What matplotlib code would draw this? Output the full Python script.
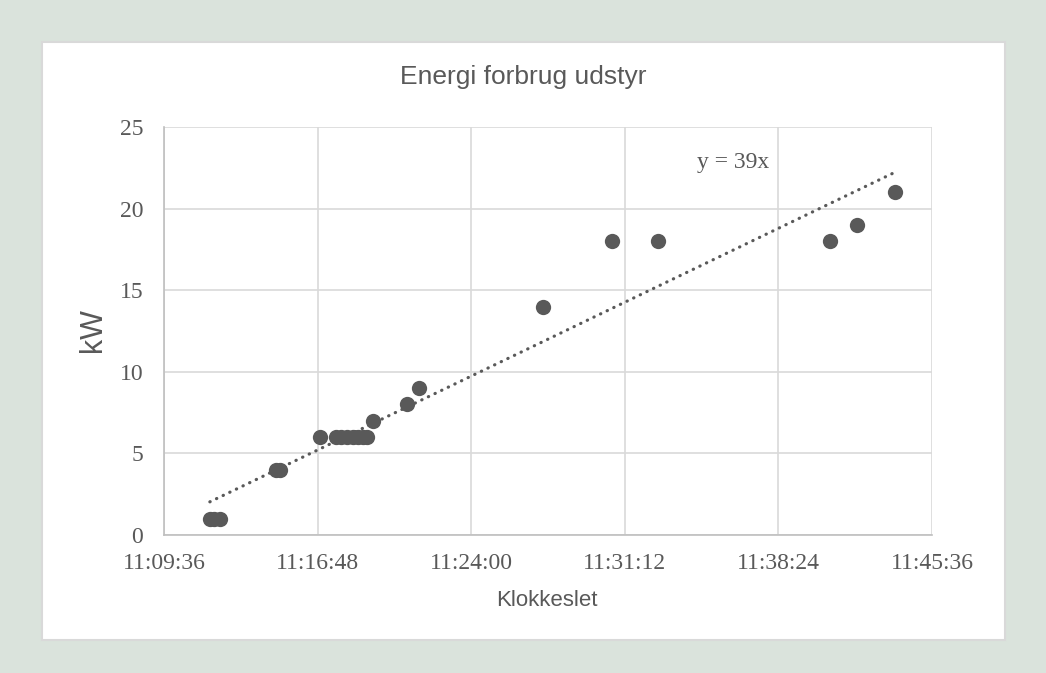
import numpy as np
import matplotlib
matplotlib.use("Agg")
import matplotlib.pyplot as plt
from matplotlib.patches import Rectangle
from matplotlib.ticker import FuncFormatter, MultipleLocator

# Målinger: klokkeslet og effekt
klokkeslet = ["11:11:45", "11:11:57", "11:12:14", "11:14:51", "11:15:02",
              "11:16:55", "11:17:40", "11:17:54", "11:18:11", "11:18:28",
              "11:18:42", "11:18:56", "11:19:07", "11:19:24", "11:20:59",
              "11:21:33", "11:27:23", "11:30:36", "11:32:46", "11:40:49",
              "11:42:04", "11:43:52"]
kw = [1, 1, 1, 4, 4,
      6, 6, 6, 6, 6,
      6, 6, 6, 7, 8,
      9, 14, 18, 18, 18,
      19, 21]
x_start, x_end = "11:09:36", "11:45:36"
trend_label = "y = 39x"


def to_sec(s):
    h, m, sec = (int(v) for v in s.split(":"))
    return h * 3600 + m * 60 + sec


def fmt_time(v, pos=None):
    v = int(round(v))
    return f"{v // 3600:02d}:{(v % 3600) // 60:02d}:{v % 60:02d}"


t = np.array([to_sec(s) for s in klokkeslet], dtype=float)
y = np.array(kw, dtype=float)

grey = "#595959"
grid = "#D9D9D9"
serif = "Liberation Serif"
sans = "Liberation Sans"

W, H = 1046, 673
fig = plt.figure(figsize=(W / 100, H / 100), dpi=100)
fig.patch.set_facecolor("#DAE3DC")

# hvid diagramflade
fig.add_artist(Rectangle((42 / W, 1 - 640 / H), 963 / W, 598 / H,
                         transform=fig.transFigure, facecolor="white",
                         edgecolor=grid, linewidth=1.5, zorder=0))

ax = fig.add_axes([164 / W, 1 - 535 / H, 768 / W, 408 / H])
ax.set_facecolor("none")

ax.scatter(t, y, s=11 ** 2, color=grey, zorder=3, linewidths=0)

# lineær tendenslinje
k, b = np.polyfit(t, y, 1)
tx = np.array([t.min(), t.max()])
ax.plot(tx, k * tx + b, color=grey, linewidth=2.3,
        linestyle=(0, (0.1, 2.2)), dash_capstyle="round", zorder=2)
ax.text(0.694, 0.912, trend_label, transform=ax.transAxes, ha="left",
        va="center", fontsize=17, color=grey, family=serif)

ax.set_xlim(to_sec(x_start), to_sec(x_end))
ax.set_ylim(0, 25)
ax.xaxis.set_major_locator(MultipleLocator(432))
ax.yaxis.set_major_locator(MultipleLocator(5))
ax.xaxis.set_major_formatter(FuncFormatter(fmt_time))

ax.grid(True, color=grid, linewidth=1.2)
ax.set_axisbelow(True)
for side in ["top", "right"]:
    ax.spines[side].set_visible(False)
for side in ["left", "bottom"]:
    ax.spines[side].set_color("#BFBFBF")
    ax.spines[side].set_linewidth(1.2)

ax.tick_params(axis="both", length=0, labelsize=17, labelcolor=grey)
ax.tick_params(axis="y", pad=15)
ax.tick_params(axis="x", pad=13)
for lab in ax.get_xticklabels() + ax.get_yticklabels():
    lab.set_family(serif)

fig.text(523.5 / W, 1 - 77 / H, "Energi forbrug udstyr", ha="center",
         va="center", fontsize=19, color=grey, family=sans)
fig.text(547 / W, 1 - 600 / H, "Klokkeslet", ha="center", va="center",
         fontsize=16, color=grey, family=sans)
fig.text(93 / W, 1 - 330 / H, "kW", ha="center", va="center",
         rotation=90, fontsize=22, color=grey, family=sans)

fig.savefig("out.png", dpi=100, facecolor=fig.get_facecolor())
